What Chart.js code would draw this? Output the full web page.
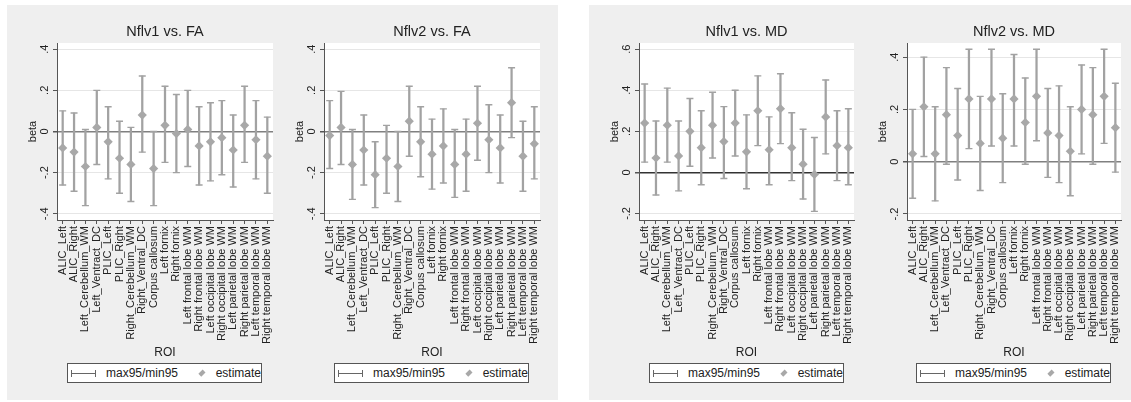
<!DOCTYPE html>
<html>
<head>
<meta charset="utf-8">
<script src="https://cdn.jsdelivr.net/npm/chart.js@4.4.1/dist/chart.umd.min.js"></script>
<style>
  body { margin: 0; background: #fff; font-family: "Liberation Sans", Arial, sans-serif; }
  #wrap { position: relative; width: 1131px; height: 402px; overflow: hidden; }
  .box { position: absolute; top: 5px; height: 395px; background: #efefef; }
  canvas { position: absolute; top: 15px; }
  .legend { position: absolute; top: 363px; width: 193px; height: 18px; border: 1px solid #555; background: #fff;
            display: flex; align-items: center; font-size: 12px; color: #222; box-sizing: content-box; }
  .legend .ln { display: inline-block; width: 38px; height: 7px; margin-left: 3px; margin-right: 10px;
                border-left: 1px solid #666; border-right: 1px solid #666;
                background: linear-gradient(#666, #666) center / 100% 1px no-repeat; }
  .legend .dm { display: inline-block; width: 6px; height: 6px; background: #a8a8a8; transform: rotate(45deg);
                margin-left: 22px; margin-right: 12px; }
</style>
</head>
<body>
<div id="wrap">
  <div class="box" style="left:7px;width:551px"></div>
  <div class="box" style="left:589px;width:542px"></div>
  <canvas id="c1" width="306" height="345" style="left:12px"></canvas>
  <canvas id="c2" width="306" height="345" style="left:279px"></canvas>
  <canvas id="c3" width="305" height="345" style="left:594px"></canvas>
  <canvas id="c4" width="304" height="345" style="left:862px"></canvas>
  <div class="legend" style="left:67px"><span class="ln"></span>max95/min95<span class="dm"></span>estimate</div>
  <div class="legend" style="left:334px"><span class="ln"></span>max95/min95<span class="dm"></span>estimate</div>
  <div class="legend" style="left:649px"><span class="ln"></span>max95/min95<span class="dm"></span>estimate</div>
  <div class="legend" style="left:916px"><span class="ln"></span>max95/min95<span class="dm"></span>estimate</div>
</div>
<script>
const categories = ['ALIC_Left', 'ALIC_Right', 'Left_Cerebellum_WM', 'Left_Ventract_DC', 'PLIC_Left', 'PLIC_Right',
  'Right_Cerebellum_WM', 'Right_Ventral_DC', 'Corpus callosum', 'Left fornix', 'Right fornix',
  'Left frontal lobe WM', 'Right frontal lobe WM', 'Left occipital lobe WM', 'Right occipital lobe WM',
  'Left parietal lobe WM', 'Right parietal lobe WM', 'Left temporal lobe WM', 'Right temporal lobe WM'];

// Nflv1 vs. FA
const fa1Est = [-0.08, -0.10, -0.17, 0.02, -0.05, -0.13, -0.16, 0.08, -0.18, 0.03, -0.01, 0.01, -0.07, -0.05, -0.03, -0.09, 0.03, -0.04, -0.12];
const fa1Hi  = [0.10, 0.09, 0.01, 0.20, 0.12, 0.05, 0.02, 0.27, 0.00, 0.22, 0.18, 0.20, 0.12, 0.14, 0.15, 0.08, 0.22, 0.15, 0.07];
const fa1Lo  = [-0.26, -0.29, -0.36, -0.16, -0.23, -0.30, -0.34, -0.10, -0.36, -0.15, -0.20, -0.17, -0.26, -0.24, -0.21, -0.27, -0.15, -0.23, -0.30];

// Nflv2 vs. FA
const fa2Est = [-0.02, 0.02, -0.16, -0.09, -0.21, -0.13, -0.17, 0.05, -0.05, -0.11, -0.07, -0.16, -0.11, 0.04, -0.04, -0.08, 0.14, -0.12, -0.06];
const fa2Hi  = [0.15, 0.195, 0.01, 0.08, -0.05, 0.03, 0.00, 0.22, 0.12, 0.06, 0.11, 0.01, 0.06, 0.22, 0.13, 0.08, 0.31, 0.05, 0.12];
const fa2Lo  = [-0.18, -0.16, -0.33, -0.26, -0.37, -0.30, -0.34, -0.12, -0.22, -0.28, -0.25, -0.32, -0.29, -0.14, -0.20, -0.25, -0.03, -0.29, -0.23];

// Nflv1 vs. MD
const md1Est = [0.24, 0.07, 0.23, 0.08, 0.20, 0.12, 0.23, 0.15, 0.24, 0.10, 0.30, 0.11, 0.31, 0.12, 0.04, -0.01, 0.27, 0.13, 0.12];
const md1Hi  = [0.43, 0.25, 0.41, 0.25, 0.36, 0.30, 0.39, 0.32, 0.40, 0.28, 0.47, 0.27, 0.48, 0.29, 0.21, 0.17, 0.45, 0.30, 0.31];
const md1Lo  = [0.05, -0.11, 0.05, -0.09, 0.03, -0.06, 0.07, -0.03, 0.08, -0.08, 0.13, -0.06, 0.14, -0.04, -0.13, -0.19, 0.09, -0.04, -0.06];

// Nflv2 vs. MD
const md2Est = [0.03, 0.21, 0.03, 0.18, 0.10, 0.24, 0.07, 0.24, 0.09, 0.24, 0.15, 0.25, 0.11, 0.10, 0.04, 0.20, 0.18, 0.25, 0.13];
const md2Hi  = [0.20, 0.40, 0.21, 0.36, 0.28, 0.43, 0.25, 0.43, 0.26, 0.41, 0.32, 0.43, 0.28, 0.29, 0.21, 0.37, 0.36, 0.43, 0.30];
const md2Lo  = [-0.14, 0.02, -0.15, -0.01, -0.07, 0.05, -0.11, 0.06, -0.08, 0.06, -0.01, 0.08, -0.06, -0.08, -0.13, 0.03, -0.01, 0.07, -0.04];

// y ticks
const faTicks = [-0.4, -0.2, 0, 0.2, 0.4];
const faTickLabels = ['-.4', '-.2', '0', '.2', '.4'];
const md1Ticks = [-0.2, 0, 0.2, 0.4, 0.6];
const md1TickLabels = ['-.2', '0', '.2', '.4', '.6'];
const md2Ticks = [-0.2, 0, 0.2, 0.4];
const md2TickLabels = ['-.2', '0', '.2', '.4'];

Chart.defaults.font.family = '"Liberation Sans", Arial, sans-serif';
Chart.defaults.color = '#222';

const barColor = '#a2a2a2';
const dotColor = '#a8a8a8';

const plotBg = {
  id: 'plotBg',
  beforeDraw(chart) {
    const a = chart.chartArea;
    const ctx = chart.ctx;
    ctx.save();
    ctx.fillStyle = '#fff';
    ctx.fillRect(a.left, a.top, a.right - a.left, a.bottom - a.top);
    ctx.restore();
  }
};

// Stata-style y tick labels, turned 90 degrees
const yLabels = {
  id: 'yLabels',
  afterDraw(chart, args, opts) {
    const s = chart.scales.y;
    const ctx = chart.ctx;
    ctx.save();
    ctx.fillStyle = '#222';
    ctx.font = '11px "Liberation Sans", Arial, sans-serif';
    ctx.textAlign = 'center';
    ctx.textBaseline = 'middle';
    s.ticks.forEach((t, i) => {
      ctx.save();
      ctx.translate(s.right - 12.5, s.getPixelForValue(t.value));
      ctx.rotate(-Math.PI / 2);
      ctx.fillText(opts.labels[i], 0, 0);
      ctx.restore();
    });
    ctx.restore();
  }
};

function makePanel(id, title, est, lo, hi, yMin, yMax, ticks, tickLabels, zeroColor) {
  const ctx = document.getElementById(id).getContext('2d');
  return new Chart(ctx, {
    type: 'bar',
    data: {
      labels: categories,
      datasets: [
        {
          type: 'line', label: 'estimate', data: est, showLine: false, order: 0,
          pointStyle: 'rectRot', pointRadius: 4.6, pointBackgroundColor: dotColor,
          pointBorderColor: dotColor, pointBorderWidth: 0
        },
        {
          type: 'line', label: 'hi', data: hi, showLine: false, order: 1,
          pointStyle: 'line', pointRadius: 3.5, pointBorderColor: barColor, pointBorderWidth: 1.4
        },
        {
          type: 'line', label: 'lo', data: lo, showLine: false, order: 1,
          pointStyle: 'line', pointRadius: 3.5, pointBorderColor: barColor, pointBorderWidth: 1.4
        },
        {
          label: 'max95/min95', data: lo.map((l, i) => [l, hi[i]]), order: 2,
          backgroundColor: barColor, barThickness: 1.6, borderWidth: 0
        }
      ]
    },
    options: {
      responsive: false,
      animation: false,
      layout: { padding: 0 },
      plugins: {
        legend: { display: false },
        tooltip: { enabled: false },
        title: {
          display: true, text: title, color: '#222',
          font: { size: 14.5, weight: 'normal' },
          padding: { top: 8, bottom: 2.6 }
        },
        yLabels: { labels: tickLabels }
      },
      scales: {
        x: {
          offset: true,
          afterFit: s => { s.height = 140; },
          grid: { drawOnChartArea: false, offset: false, tickLength: 4, tickColor: '#555' },
          border: { color: '#555' },
          ticks: { autoSkip: false, minRotation: 90, maxRotation: 90, padding: 2, font: { size: 11 }, color: '#222' },
          title: { display: true, text: 'ROI', font: { size: 12 }, color: '#222', padding: { top: 0, bottom: 0 } }
        },
        y: {
          min: yMin, max: yMax,
          afterFit: s => { s.width = 45; },
          afterBuildTicks: s => { s.ticks = ticks.map(v => ({ value: v })); },
          grid: {
            color: c => (c.tick && c.tick.value === 0 ? zeroColor : '#e6e6e6'),
            lineWidth: c => (c.tick && c.tick.value === 0 ? 1.5 : 1),
            tickLength: 4, tickColor: '#555'
          },
          border: { color: '#555' },
          ticks: { display: false },
          title: { display: true, text: 'beta', font: { size: 11 }, color: '#222', padding: { top: 14, bottom: 0 } }
        },
        yR: {
          position: 'right', display: true,
          afterFit: s => { s.width = 45; },
          grid: { display: false }, border: { display: false }, ticks: { display: false }
        }
      }
    },
    plugins: [plotBg, yLabels]
  });
}

makePanel('c1', 'Nflv1 vs. FA', fa1Est, fa1Lo, fa1Hi, -0.43, 0.43, faTicks, faTickLabels, '#808080');
makePanel('c2', 'Nflv2 vs. FA', fa2Est, fa2Lo, fa2Hi, -0.43, 0.43, faTicks, faTickLabels, '#808080');
makePanel('c3', 'Nflv1 vs. MD', md1Est, md1Lo, md1Hi, -0.232, 0.63, md1Ticks, md1TickLabels, '#333');
makePanel('c4', 'Nflv2 vs. MD', md2Est, md2Lo, md2Hi, -0.223, 0.454, md2Ticks, md2TickLabels, '#808080');
</script>
</body>
</html>
